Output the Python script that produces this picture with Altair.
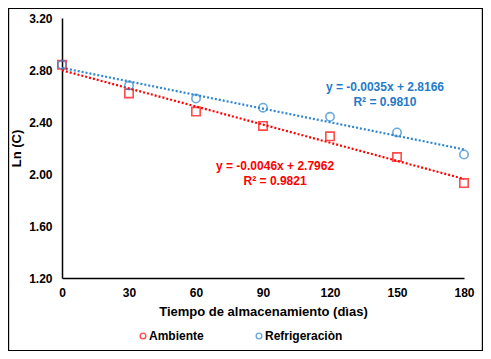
import altair as alt
import pandas as pd

dias = [0, 30, 60, 90, 120, 150, 180]
ambiente = [2.84, 2.62, 2.48, 2.37, 2.29, 2.13, 1.93]
refrigeracion = [2.84, 2.68, 2.58, 2.51, 2.44, 2.32, 2.15]
series = ["Ambiente", "Refrigeraciòn"]
colors = ["#ff0000", "#2e86d0"]
text_colors = ["#ff0000", "#1f7bc9"]
shapes = ["square", "circle"]
y_ticks = [1.2, 1.6, 2.0, 2.4, 2.8, 3.2]
x_ticks = [0, 30, 60, 90, 120, 150, 180]

eq_text = [["y = -0.0046x + 2.7962", "R² = 0.9821"], ["y = -0.0035x + 2.8166", "R² = 0.9810"]]
eq_x = [95.4, 144.6]
eq_y = [2.062, 2.669]

rows = []
for d, a, r in zip(dias, ambiente, refrigeracion):
    rows.append({"dias": d, "lnc": a, "serie": series[0]})
    rows.append({"dias": d, "lnc": r, "serie": series[1]})
df = pd.DataFrame(rows)

ann = pd.DataFrame({"serie": series, "x": eq_x, "y": eq_y, "txt": eq_text})

FONT = "Liberation Sans"

xscale = alt.Scale(domain=[0, 180], nice=False)
yscale = alt.Scale(domain=[1.2, 3.2], nice=False, zero=False)

xaxis = alt.Axis(values=x_ticks, title="Tiempo de almacenamiento (dìas)", grid=False, ticks=False,
                 domainColor="black", domainWidth=1.5, labelFont=FONT, labelFontSize=12,
                 labelFontWeight="bold", labelColor="black", labelPadding=9,
                 titleFont=FONT, titleFontSize=13, titleFontWeight="bold", titleColor="black",
                 titlePadding=7, labelFlush=False)
yaxis = alt.Axis(values=y_ticks, format=".2f", title="Ln (C)", grid=False, ticks=False,
                 domainColor="black", domainWidth=1.5, labelFont=FONT, labelFontSize=12,
                 labelFontWeight="bold", labelColor="black", labelPadding=10,
                 titleFont=FONT, titleFontSize=13, titleFontWeight="bold", titleColor="black",
                 titlePadding=5, labelFlush=False)

color = alt.Color("serie:N", scale=alt.Scale(domain=series, range=colors),
                  legend=alt.Legend(title=None, orient="none", legendX=75, legendY=312,
                                    direction="horizontal", labelFont=FONT, labelFontSize=12,
                                    labelFontWeight="bold", labelColor="black", symbolSize=32,
                                    symbolStrokeWidth=1.4, columnPadding=49, labelOffset=0,
                                    symbolOffset=0))
shape = alt.Shape("serie:N", scale=alt.Scale(domain=series, range=shapes))

base = alt.Chart(df)

lines = base.transform_regression("dias", "lnc", groupby=["serie"], extent=[0, 180]).mark_line(
    strokeDash=[2, 2], strokeWidth=2.2
).encode(
    x=alt.X("dias:Q", scale=xscale, axis=xaxis),
    y=alt.Y("lnc:Q", scale=yscale, axis=yaxis),
    color=alt.Color("serie:N", scale=alt.Scale(domain=series, range=colors), legend=None),
)

points = base.mark_point(filled=False, size=70, strokeWidth=1.6).encode(
    x=alt.X("dias:Q", scale=xscale),
    y=alt.Y("lnc:Q", scale=yscale),
    color=color,
    shape=shape,
)

text = alt.Chart(ann).mark_text(font=FONT, fontSize=12, fontWeight="bold", align="center",
                                baseline="middle", lineHeight=15).encode(
    x=alt.X("x:Q", scale=xscale),
    y=alt.Y("y:Q", scale=yscale),
    text="txt",
    color=alt.Color("serie:N", scale=alt.Scale(domain=series, range=text_colors), legend=None),
)

frame = alt.Chart(ann).mark_rect(fill=None, stroke="black", strokeWidth=1.2).encode(
    x=alt.value(-53.5), x2=alt.value(420.5), y=alt.value(-9.5), y2=alt.value(332.5)
)

chart = alt.layer(lines, points, text, frame).resolve_scale(color="independent").properties(
    width=402, height=260,
    autosize=alt.AutoSizeParams(type="none"),
    padding={"left": 54, "top": 10, "right": 19, "bottom": 73},
    background="white",
).configure_view(stroke=None)

chart.save("out.html", embed_options={"renderer": "svg", "actions": False})
